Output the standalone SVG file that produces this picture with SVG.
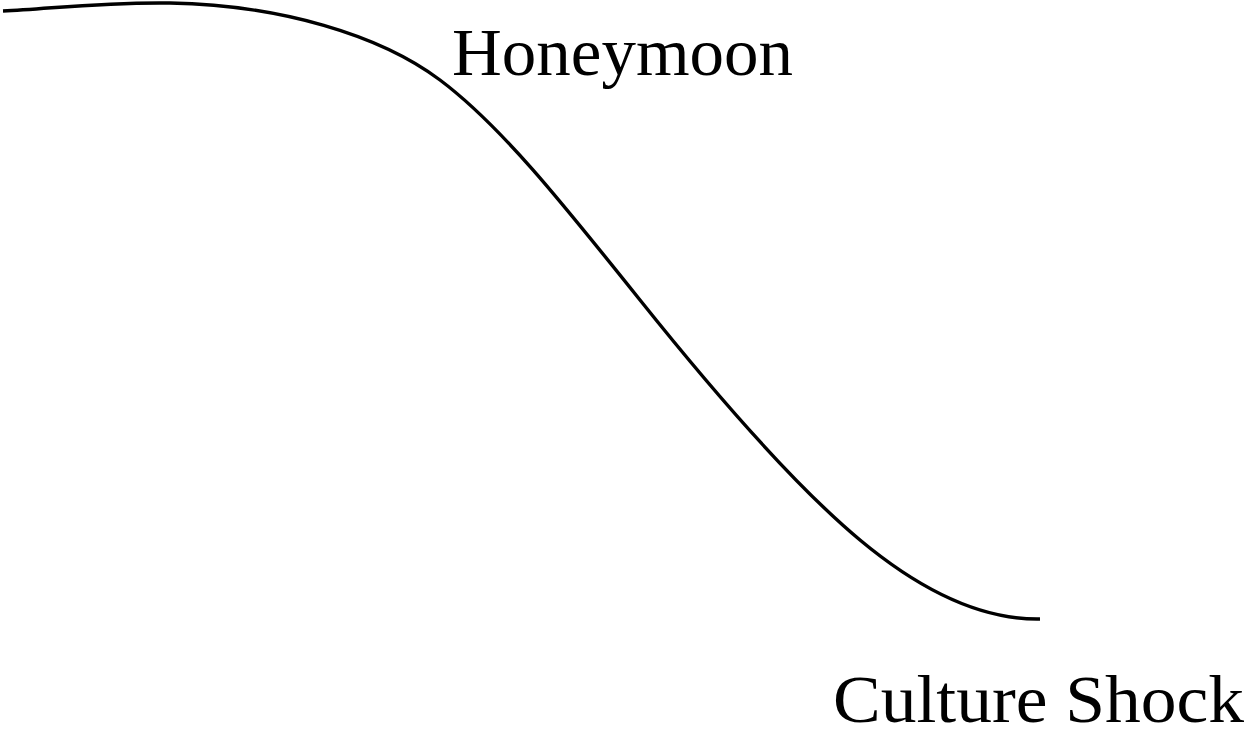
<svg xmlns="http://www.w3.org/2000/svg" width="1247" height="729" viewBox="0 0 1247 729">
<style>
.lbl{font-family:"Liberation Serif","DejaVu Serif",serif;font-size:67px;fill:#000}
.curve{fill:none;stroke:#000;stroke-width:3.4}
</style>
<rect width="1247" height="729" fill="#fff"/>
<g id="connectors">
<path class="curve" d="M3,11 C50,9 100,2 170,3 C280,5 380,35 440,80 C500,125 560,200 640,300 C720,400 800,490 860,540 C920,590 980,620 1040,619"/>
</g>
<g id="honeymoon"><text class="lbl" x="452" y="75" textLength="341" lengthAdjust="spacingAndGlyphs">Honeymoon</text></g>
<g id="culture-shock"><text class="lbl" x="833" y="722" textLength="411" lengthAdjust="spacingAndGlyphs">Culture Shock</text></g>
</svg>
